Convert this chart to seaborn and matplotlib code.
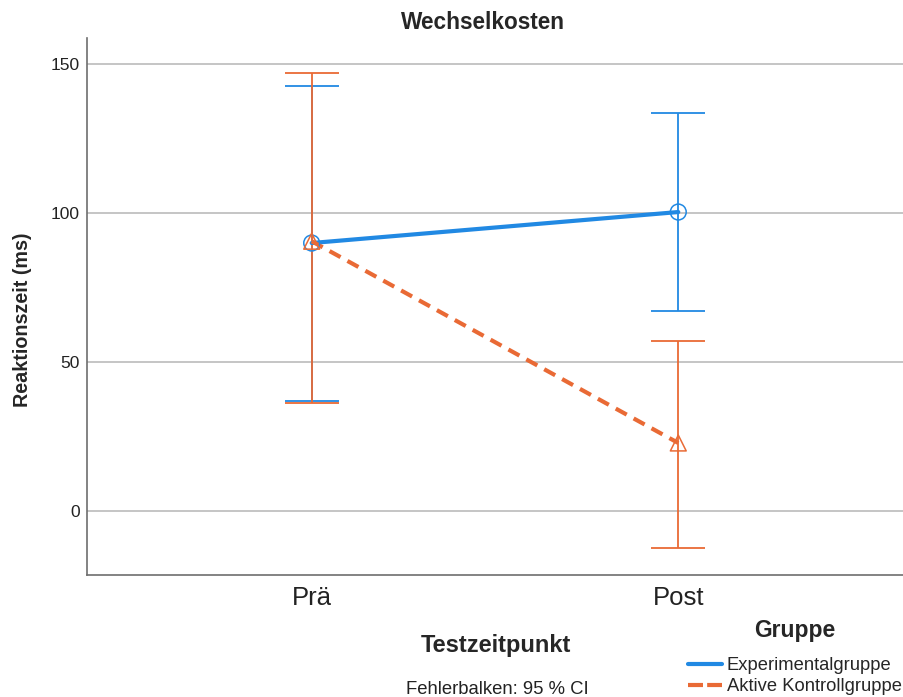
import matplotlib
matplotlib.use("Agg")
import matplotlib.pyplot as plt
import seaborn as sns
import pandas as pd
from matplotlib.lines import Line2D

# Mean switch costs and 95 % CI bounds per group and time point
zeitpunkte = ["Prä", "Post"]
gruppen = ["Experimentalgruppe", "Aktive Kontrollgruppe"]
mittel_exp = [89.9, 100.3]
ci_unten_exp = [36.9, 67.1]
ci_oben_exp = [142.6, 133.6]
mittel_kon = [90.5, 22.8]
ci_unten_kon = [36.2, -12.4]
ci_oben_kon = [147.0, 57.0]
y_ticks = [0, 50, 100, 150]

farben = {"Experimentalgruppe": "#2189e3", "Aktive Kontrollgruppe": "#e96a35"}
marker = {"Experimentalgruppe": "o", "Aktive Kontrollgruppe": "^"}

df = pd.DataFrame({
    "Testzeitpunkt": zeitpunkte * 2,
    "pos": [0, 1, 0, 1],
    "Gruppe": [gruppen[0]] * 2 + [gruppen[1]] * 2,
    "Mittel": mittel_exp + mittel_kon,
    "unten": ci_unten_exp + ci_unten_kon,
    "oben": ci_oben_exp + ci_oben_kon,
})

sns.set_style("white")
plt.rcParams["font.family"] = ["Liberation Sans", "DejaVu Sans"]

fig = plt.figure(figsize=(9.04, 6.97), dpi=100)
ax = fig.add_axes([0.0962, 0.175, 0.9027, 0.7705])

# error bars first, so the mean lines sit on top
for g in gruppen:
    sub = df[df["Gruppe"] == g]
    ax.errorbar(sub["pos"], sub["Mittel"],
                yerr=[sub["Mittel"] - sub["unten"], sub["oben"] - sub["Mittel"]],
                fmt="none", ecolor=farben[g], elinewidth=1.3, capsize=19.5,
                capthick=1.3, zorder=3)

sns.lineplot(data=df, x="pos", y="Mittel", hue="Gruppe", style="Gruppe",
             palette=farben, dashes={gruppen[0]: "", gruppen[1]: (3.0, 1.9)},
             markers=False, linewidth=3.0, legend=False, ax=ax, zorder=4)

for g in gruppen:
    sub = df[df["Gruppe"] == g]
    ax.scatter(sub["pos"], sub["Mittel"], marker=marker[g], s=130,
               facecolors="none", edgecolors=farben[g], linewidths=1.1, zorder=5)

ax.set_xlim(-0.613, 1.613)
ax.set_ylim(-21.5, 158.7)
ax.set_xticks([0, 1])
ax.set_xticklabels(zeitpunkte, fontsize=18.5, color="#222222")
ax.set_yticks(y_ticks)
ax.set_yticklabels([str(t) for t in y_ticks], fontsize=12.5, color="#222222")
ax.tick_params(axis="both", length=0)
ax.tick_params(axis="x", pad=8)
ax.tick_params(axis="y", pad=5)
ax.yaxis.grid(True, color="#b5b5b5", linewidth=1.1)
ax.xaxis.grid(False)
for s in ["top", "right"]:
    ax.spines[s].set_visible(False)
for s in ["left", "bottom"]:
    ax.spines[s].set_color("#6e6e6e")
    ax.spines[s].set_linewidth(1.2)
ax.set_xlabel("")
ax.set_ylabel("Reaktionszeit (ms)", fontsize=14.2, fontweight="bold")
ax.yaxis.set_label_coords(-0.067, 0.475)

fig.text(0.534, 0.968, "Wechselkosten", ha="center", va="center",
         fontsize=16.3, fontweight="bold")
fig.text(0.549, 0.0746, "Testzeitpunkt", ha="center", va="center",
         fontsize=17, fontweight="bold")
fig.text(0.55, 0.011, "Fehlerbalken: 95 % CI", ha="center", va="center",
         fontsize=13.3, color="#222222")

# group legend: title and entries
fig.text(0.8795, 0.096, "Gruppe", ha="center", va="center",
         fontsize=16.5, fontweight="bold")
handles = [Line2D([0], [0], color=farben[gruppen[0]], lw=3.0),
           Line2D([0], [0], color=farben[gruppen[1]], lw=3.0, dashes=(3.6, 1.0))]
leg = fig.legend(handles, gruppen, loc="upper left",
                 bbox_to_anchor=(0.761, 0.057), frameon=False, fontsize=13.2,
                 handlelength=1.85, handletextpad=0.27, labelspacing=0.22,
                 borderaxespad=0, borderpad=0)

fig.savefig("out.png", dpi=100)
